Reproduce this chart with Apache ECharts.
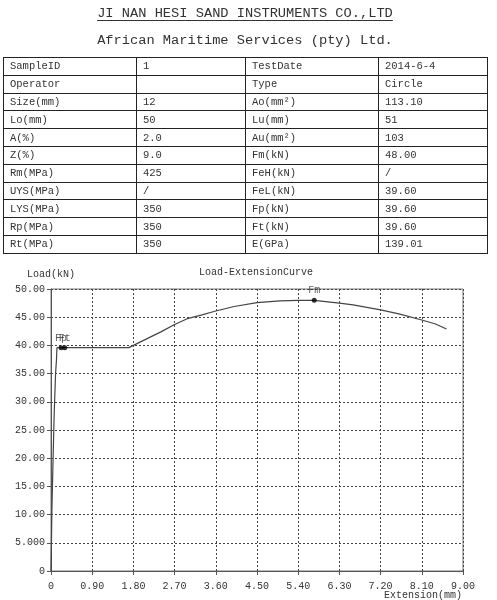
<!DOCTYPE html>
<html>
<head>
<meta charset="utf-8">
<script src="https://cdn.jsdelivr.net/npm/echarts@6/dist/echarts.min.js"></script>
<style>
  html, body { margin: 0; padding: 0; background: #fff; }
  #page { position: relative; width: 497px; height: 600px; overflow: hidden; }
  #chart { position: absolute; left: 0; top: 0; width: 497px; height: 600px; }
  .hdr { position: absolute; left: 0; width: 490px; text-align: center; font-family: "Liberation Mono", "DejaVu Sans Mono", monospace; color: #333; white-space: pre; z-index: 2; }
  #t1 { top: 6px; font-size: 13.7px; text-decoration: underline; text-underline-offset: 3px; }
  #t2 { top: 33px; font-size: 13.7px; }
  #tbl { position: absolute; left: 3px; top: 57px; border-collapse: collapse; table-layout: fixed; z-index: 2;
         font-family: "Liberation Mono", "DejaVu Sans Mono", monospace; font-size: 10.5px; color: #333; }
  #tbl td { border: 1.5px solid #222; height: 16.8px; padding: 0 0 0 6px; line-height: 16px; white-space: pre; overflow: hidden; }
</style>
</head>
<body>
<div id="page">
  <div id="chart"></div>
  <div id="t1" class="hdr"></div>
  <div id="t2" class="hdr"></div>
  <table id="tbl"></table>
</div>
<script>
// ---- header texts ----
const companyName = 'JI NAN HESI SAND INSTRUMENTS CO.,LTD';
const customerName = 'African Maritime Services (pty) Ltd.';

// ---- table contents ----
const leftLabels  = ['SampleID', 'Operator', 'Size(mm)', 'Lo(mm)', 'A(%)', 'Z(%)', 'Rm(MPa)', 'UYS(MPa)', 'LYS(MPa)', 'Rp(MPa)', 'Rt(MPa)'];
const leftValues  = ['1', '', '12', '50', '2.0', '9.0', '425', '/', '350', '350', '350'];
const rightLabels = ['TestDate', 'Type', 'Ao(mm²)', 'Lu(mm)', 'Au(mm²)', 'Fm(kN)', 'FeH(kN)', 'FeL(kN)', 'Fp(kN)', 'Ft(kN)', 'E(GPa)'];
const rightValues = ['2014-6-4', 'Circle', '113.10', '51', '103', '48.00', '/', '39.60', '39.60', '39.60', '139.01'];

// ---- curve data (extension mm, load kN) ----
const extension = [0, 0.01, 0.02, 0.04, 0.07, 0.10, 0.12, 0.13, 0.20, 0.50, 1.00, 1.50, 1.70, 1.80, 2.00, 2.40, 2.70, 3.00, 3.30, 3.60, 4.00, 4.50, 5.00, 5.40, 5.75, 6.30, 6.60, 7.20, 7.60, 8.10, 8.40, 8.64];
const load      = [0, 5, 11, 18, 28, 35, 37.5, 39.6, 39.6, 39.6, 39.6, 39.6, 39.6, 40.0, 40.8, 42.4, 43.7, 44.8, 45.4, 46.1, 46.9, 47.6, 47.9, 48.0, 48.0, 47.5, 47.2, 46.3, 45.6, 44.5, 43.8, 42.9];

// ---- marked points ----
const markNames = ['Fp', 'Ft', 'Fm'];
const markExt   = [0.22, 0.30, 5.75];
const markLoad  = [39.6, 39.6, 48.0];

// ---- axes ----
const xMin = 0, xMax = 9, xStep = 0.9;
const yMin = 0, yMax = 50, yStep = 5;
const chartTitle = 'Load-ExtensionCurve';
const yName = 'Load(kN)';
const xName = 'Extension(mm)';

document.getElementById('t1').textContent = companyName;
document.getElementById('t2').textContent = customerName;

const colW = [133, 109, 133, 109];
const tbl = document.getElementById('tbl');
const cg = document.createElement('colgroup');
colW.forEach(w => { const c = document.createElement('col'); c.style.width = w + 'px'; cg.appendChild(c); });
tbl.appendChild(cg);
for (let i = 0; i < leftLabels.length; i++) {
  const tr = document.createElement('tr');
  [leftLabels[i], leftValues[i], rightLabels[i], rightValues[i]].forEach(t => {
    const td = document.createElement('td'); td.textContent = t; tr.appendChild(td);
  });
  tbl.appendChild(tr);
}

const FONT = '"Liberation Mono", "DejaVu Sans Mono", monospace';
const chart = echarts.init(document.getElementById('chart'), null, { renderer: 'canvas' });
const gridDash = { color: '#444', width: 1, type: [2, 2] };

chart.setOption({
  animation: false,
  backgroundColor: '#fff',
  grid: { left: 51, right: 34, top: 289, bottom: 29, show: true, borderColor: '#777', borderWidth: 1, backgroundColor: 'transparent' },
  graphic: [
    { type: 'text', left: 256 - 57, top: 267, style: { text: chartTitle, font: '10px ' + FONT, fill: '#333' } },
    { type: 'text', left: 384, top: 590, style: { text: xName, font: '10px ' + FONT, fill: '#333' } }
  ],
  xAxis: {
    type: 'value', min: xMin, max: xMax, interval: xStep,
    axisLine: { show: true, lineStyle: { color: '#555', width: 1 } },
    axisTick: { show: true, length: 4, lineStyle: { color: '#555' } },
    axisLabel: { margin: 10, color: '#333', fontFamily: FONT, fontSize: 10,
      formatter: v => (Math.abs(v) < 1e-9 ? '0' : v.toFixed(2)) },
    splitLine: { show: true, lineStyle: gridDash }
  },
  yAxis: {
    type: 'value', min: yMin, max: yMax, interval: yStep,
    name: yName, nameLocation: 'end', nameGap: 10,
    nameTextStyle: { color: '#333', fontFamily: FONT, fontSize: 10, align: 'center' },
    axisLine: { show: true, lineStyle: { color: '#555', width: 1 } },
    axisTick: { show: true, length: 4, lineStyle: { color: '#555' } },
    axisLabel: { margin: 6, color: '#333', fontFamily: FONT, fontSize: 10,
      formatter: v => (v === 0 ? '0' : (v < 10 ? v.toFixed(3) : v.toFixed(2))) },
    splitLine: { show: true, lineStyle: gridDash }
  },
  series: [
    {
      type: 'line', data: extension.map((x, i) => [x, load[i]]),
      showSymbol: false, symbol: 'none',
      lineStyle: { color: '#444', width: 1.2 }, z: 3
    },
    {
      type: 'scatter', data: markNames.map((n, i) => ({ name: n, value: [markExt[i], markLoad[i]] })),
      symbol: 'circle', symbolSize: 5, itemStyle: { color: '#000' }, z: 4,
      label: { show: true, position: 'top', distance: 2, formatter: p => p.name,
        color: '#333', fontFamily: FONT, fontSize: 10 }
    }
  ]
});
</script>
</body>
</html>
